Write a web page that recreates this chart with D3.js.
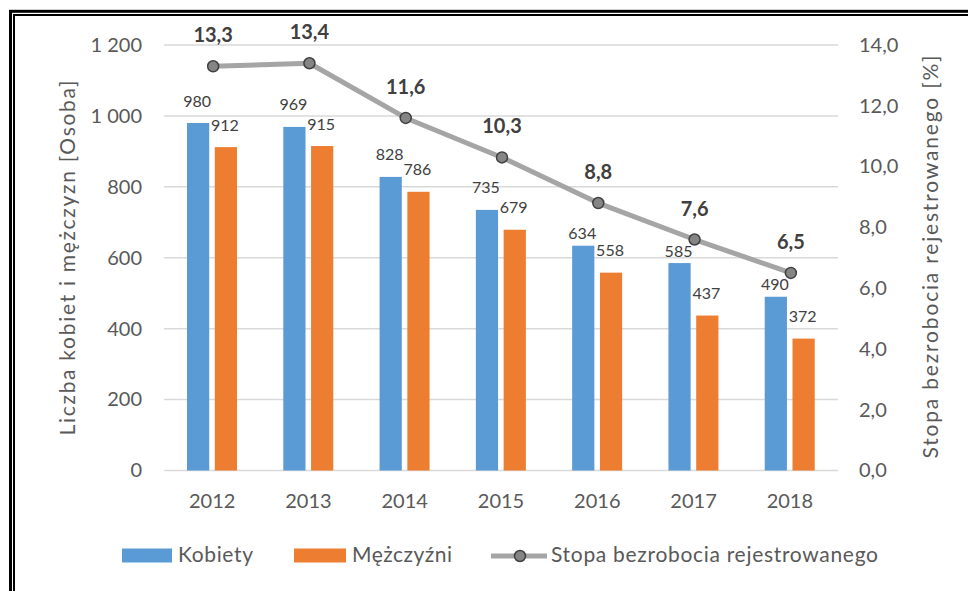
<!DOCTYPE html>
<html>
<head>
<meta charset="utf-8">
<script src="https://cdn.jsdelivr.net/npm/d3@7"></script>
<style>
  body { margin: 0; background: #fff; }
  svg text { font-family: Lato, "Open Sans", sans-serif; }
</style>
</head>
<body>
<div class="chart"></div>
<script>
// dane
const years = ['2012', '2013', '2014', '2015', '2016', '2017', '2018'];
const kobiety = [980, 969, 828, 735, 634, 585, 490];
const mezczyzni = [912, 915, 786, 679, 558, 437, 372];
const stopa = [13.3, 13.4, 11.6, 10.3, 8.8, 7.6, 6.5];
const leftTicks = [0, 200, 400, 600, 800, 1000, 1200];
const rightTicks = [0, 2, 4, 6, 8, 10, 12, 14];

const width = 968;
const height = 591;
const plotL = 164, plotR = 838, plotT = 45, plotB = 470.5;

const pl = d3.formatLocale({decimal: ',', thousands: ' ', grouping: [3], currency: ['', '']});
const fmtInt = pl.format(',d');
const fmt1 = pl.format('.1f');

const svg = d3.select('.chart')
  .append('svg')
  .attr('width', width)
  .attr('height', height);

// ramka (podwojna linia)
svg.append('rect')
  .attr('x', 10.5).attr('y', 11.3)
  .attr('width', 1000).attr('height', 1000)
  .attr('fill', 'none').attr('stroke', '#000').attr('stroke-width', 3);
svg.append('rect')
  .attr('x', 14).attr('y', 15)
  .attr('width', 1000).attr('height', 1000)
  .attr('fill', 'none').attr('stroke', '#000').attr('stroke-width', 2);

const x = d3.scaleBand().domain(years).range([plotL, plotR]);
const xInner = d3.scaleBand().domain(['k', 'm']).range([23, 73]).paddingInner(0.2);
const y = d3.scaleLinear().domain([0, 1200]).range([plotB, plotT]);
const y2 = d3.scaleLinear().domain([0, 14]).range([plotB, plotT]);

// siatka
svg.selectAll('line.grid')
  .data(leftTicks)
  .enter()
  .append('line')
  .attr('class', 'grid')
  .attr('x1', plotL).attr('x2', plotR)
  .attr('y1', d => y(d)).attr('y2', d => y(d))
  .attr('stroke', '#d9d9d9')
  .attr('stroke-width', 1.5);

// osie
const axL = svg.append('g')
  .attr('transform', `translate(${plotL - 22},0)`)
  .call(d3.axisLeft(y).tickValues(leftTicks).tickSize(0).tickPadding(0).tickFormat(fmtInt));
const axR = svg.append('g')
  .attr('transform', `translate(${plotR + 21},0)`)
  .call(d3.axisRight(y2).tickValues(rightTicks).tickSize(0).tickPadding(0).tickFormat(fmt1));
const axB = svg.append('g')
  .attr('transform', `translate(0,${plotB})`)
  .call(d3.axisBottom(x).tickSize(0).tickPadding(23));
[axL, axR, axB].forEach(g => {
  g.select('.domain').remove();
  g.selectAll('text')
    .attr('fill', '#595959')
    .style('font-size', '20px')
    .style('font-family', 'Lato, sans-serif');
});

// slupki
const bars = [
  {key: 'k', values: kobiety, color: '#5b9bd5'},
  {key: 'm', values: mezczyzni, color: '#ed7d31'}
];
bars.forEach(s => {
  svg.selectAll('rect.bar-' + s.key)
    .data(s.values)
    .enter()
    .append('rect')
    .attr('class', 'bar-' + s.key)
    .attr('x', (d, i) => x(years[i]) + xInner(s.key))
    .attr('y', d => y(d))
    .attr('width', xInner.bandwidth())
    .attr('height', d => plotB - y(d))
    .attr('fill', s.color);

  // etykiety; niebieskie od 2016 przesuniete blizej slupka (jak w oryginale)
  svg.selectAll('text.lab-' + s.key)
    .data(s.values)
    .enter()
    .append('text')
    .attr('class', 'lab-' + s.key)
    .text(d => d)
    .attr('x', (d, i) => x(years[i]) + xInner(s.key) + xInner.bandwidth() / 2 - 1)
    .attr('y', (d, i) => y(d) - ((s.key === 'k' && +years[i] >= 2016) ? 6.5 : 16.5))
    .attr('text-anchor', 'middle')
    .attr('font-size', 16)
    .attr('fill', '#404040');
});

// linia stopy bezrobocia
const cx = (d, i) => x(years[i]) + x.bandwidth() / 2 + 1;
const line = d3.line().x(cx).y(d => y2(d));
svg.append('path')
  .datum(stopa)
  .attr('d', line)
  .attr('fill', 'none')
  .attr('stroke', '#a5a5a5')
  .attr('stroke-width', 5)
  .attr('stroke-linejoin', 'round');
svg.selectAll('circle.pt')
  .data(stopa)
  .enter()
  .append('circle')
  .attr('class', 'pt')
  .attr('cx', cx)
  .attr('cy', d => y2(d))
  .attr('r', 5.5)
  .attr('fill', '#858585')
  .attr('stroke', '#404040')
  .attr('stroke-width', 1.5);
svg.selectAll('text.pt-lab')
  .data(stopa)
  .enter()
  .append('text')
  .attr('class', 'pt-lab')
  .text(d => fmt1(d))
  .attr('x', cx)
  .attr('y', d => y2(d) - 24)
  .attr('text-anchor', 'middle')
  .attr('font-size', 20)
  .attr('font-weight', 'bold')
  .attr('fill', '#404040');

// tytuly osi
svg.append('text')
  .text('Liczba kobiet i mężczyzn  [Osoba]')
  .attr('transform', 'translate(75,258) rotate(-90)')
  .attr('text-anchor', 'middle')
  .attr('font-size', 21)
  .attr('textLength', 355)
  .attr('lengthAdjust', 'spacing')
  .attr('fill', '#595959');
svg.append('text')
  .text('Stopa bezrobocia rejestrowanego [%]')
  .attr('transform', 'translate(938,257) rotate(-90)')
  .attr('text-anchor', 'middle')
  .attr('font-size', 21)
  .attr('textLength', 403)
  .attr('lengthAdjust', 'spacing')
  .attr('fill', '#595959');

// legenda
const leg = svg.append('g');
leg.append('rect').attr('x', 122).attr('y', 548.5).attr('width', 50).attr('height', 14).attr('fill', '#5b9bd5');
leg.append('text').text('Kobiety').attr('x', 178).attr('y', 562)
  .attr('font-size', 21).attr('textLength', 75).attr('lengthAdjust', 'spacing').attr('fill', '#595959');
leg.append('rect').attr('x', 294).attr('y', 548.5).attr('width', 52).attr('height', 14).attr('fill', '#ed7d31');
leg.append('text').text('Mężczyźni').attr('x', 352).attr('y', 562)
  .attr('font-size', 21).attr('textLength', 100).attr('lengthAdjust', 'spacing').attr('fill', '#595959');
leg.append('line').attr('x1', 491).attr('x2', 547).attr('y1', 556).attr('y2', 556)
  .attr('stroke', '#a5a5a5').attr('stroke-width', 5);
leg.append('circle').attr('cx', 520).attr('cy', 556).attr('r', 5.5)
  .attr('fill', '#858585').attr('stroke', '#404040').attr('stroke-width', 1.5);
leg.append('text').text('Stopa bezrobocia rejestrowanego').attr('x', 551).attr('y', 562)
  .attr('font-size', 21).attr('textLength', 327).attr('lengthAdjust', 'spacing').attr('fill', '#595959');
</script>
</body>
</html>
